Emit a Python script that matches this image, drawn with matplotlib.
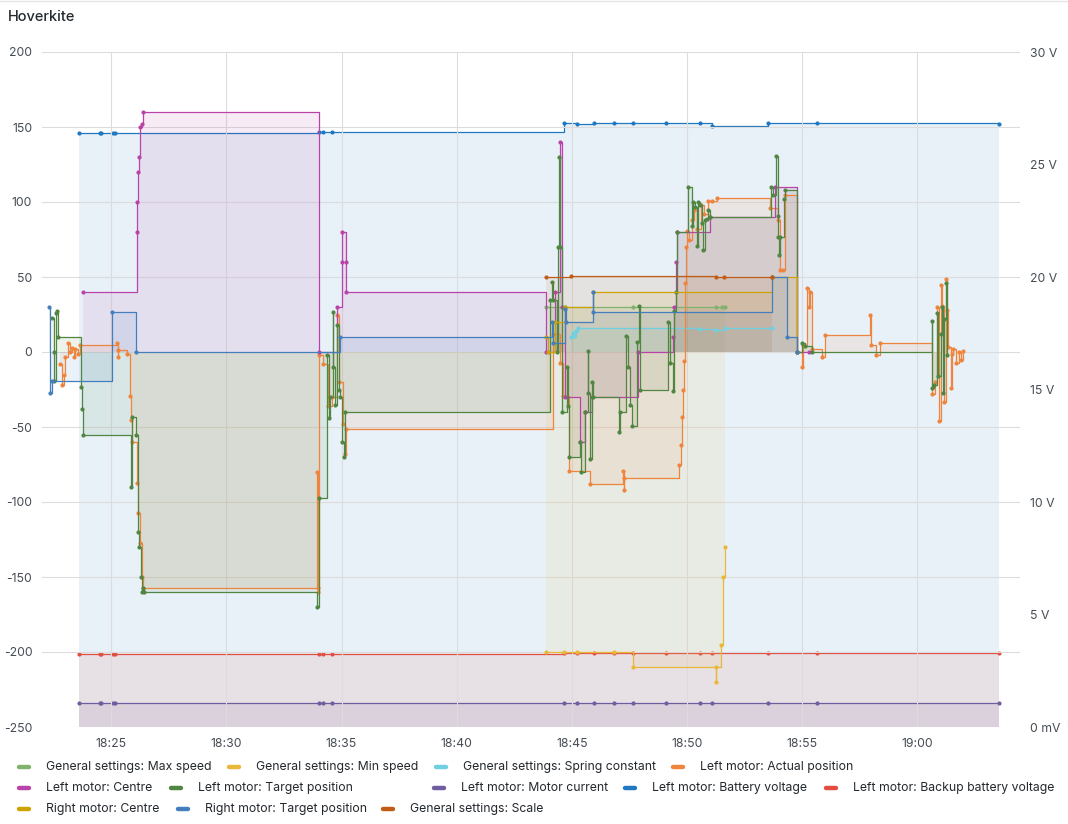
import matplotlib
matplotlib.use("Agg")
import matplotlib.pyplot as plt
from matplotlib.lines import Line2D

plt.rcParams['font.family'] = ['Inter', 'DejaVu Sans']

# all times are minutes after 18:00

# General settings
max_speed_t = [43.88, 44.70, 47.66, 51.24, 51.52, 51.65]
max_speed_v = [30, 30, 30, 30, 30, 30]

min_speed_t = [43.88, 44.66, 45.23, 46.83, 47.67, 51.24, 51.27, 51.49, 51.55, 51.64]
min_speed_v = [-200, -200, -200, -200, -210, -220, -210, -195, -150, -130]

spring_t = [44.97, 45.05, 45.10, 45.18, 45.25, 50.56, 51.24, 51.65, 53.68]
spring_v = [10, 13, 11, 14, 16, 15.5, 15, 16, 16]

scale_t = [43.88, 44.95, 51.24, 51.60, 53.68]
scale_v = [50, 50.5, 50, 50, 50]

# Left motor: Actual position
act_t = [22.79, 22.86, 22.95, 23.00, 23.12, 23.20, 23.30, 23.38, 23.45, 23.55,
         23.65, 25.25, 25.28, 25.30, 25.69, 25.82, 25.86, 25.90, 26.14, 26.18,
         26.26, 26.33, 26.40, 33.92, 33.96, 33.99, 34.03, 34.20, 34.43, 34.59,
         34.80, 34.87, 35.08, 35.16, 35.19, 44.18, 44.49, 44.62, 44.89, 45.79,
         47.21, 47.24, 47.27, 49.67, 49.73, 49.77, 49.81, 49.88, 49.91, 49.96,
         49.99, 50.10, 50.20, 50.30, 50.45, 50.60, 50.75, 50.90, 51.07, 51.30,
         53.60, 53.95, 54.04, 54.17, 54.25, 54.77, 54.98, 55.05, 55.20, 55.28,
         55.34, 55.41, 55.85, 55.99, 57.94, 58.00, 58.20, 58.38, 60.62, 60.76,
         60.85, 60.95, 61.01, 61.08, 61.15, 61.23, 61.27, 61.34, 61.45, 61.49,
         61.55, 61.68, 61.81, 61.89, 61.99]
act_v = [-8, -22, -15, -3, 6, 0, 3, -3, 2, -1,
         4.5, 6, -3, 1.5, -1.5, -29, -45, -60, -87, -107,
         -127, -150, -157, -80, -157, -160, -2, -8, -36, -30,
         25, -20, -48, -68, -51.5, 12, -7, -29, -79, -88,
         -79, -92, -84, -75, -62, -43, -25, -6, 46, 70,
         81, 75, 88, 95, 82, 98, 92, 101, 101, 102.5,
         96, 88, 55, 55, 104.5, 0, -10, 5, 43, 30,
         40, 2, -3, 11.3, 25, 5, -2, 6, -28, -20,
         30, -46, 45, 31, -33, 49, 28, 3.6, -24, -1.5,
         2, -7, 0, -5, 0.7]

# Left motor: Centre
ctr_t = [23.77, 26.11, 26.14, 26.17, 26.23, 26.27, 26.33, 26.40, 34.04, 34.82,
         35.02, 35.04, 35.20, 35.21, 43.88, 44.27, 44.47, 44.56, 44.70, 45.36,
         45.57, 45.86, 47.89, 49.39, 49.45, 49.50, 49.55, 51.00, 53.82, 54.77,
         55.30]
ctr_v = [40, 80, 100, 120, 130, 150, 152, 160, 0, 30,
         60, 80, 60, 40, 0, 40, 140, 30, -30, -60,
         -40, -30, 0, 10, 30, 60, 80, 90, 110, 0,
         0]

# Left motor: Target position
tgt_t = [22.45, 22.50, 22.54, 22.61, 22.67, 22.70, 23.71, 23.75, 23.80, 25.86,
         25.90, 26.09, 26.16, 26.22, 26.29, 26.33, 26.38, 26.42, 33.93, 34.04,
         34.36, 34.45, 34.51, 34.61, 34.65, 34.72, 34.80, 34.87, 34.94, 35.04,
         35.10, 35.16, 44.05, 44.13, 44.20, 44.34, 44.41, 44.46, 44.49, 44.56,
         44.78, 44.85, 44.89, 45.36, 45.40, 45.57, 45.69, 45.72, 45.79, 45.86,
         45.93, 47.05, 47.09, 47.35, 47.45, 47.52, 47.60, 47.84, 47.92, 47.96,
         49.19, 49.26, 49.41, 49.45, 49.52, 49.55, 50.03, 50.20, 50.27, 50.35,
         50.42, 50.49, 50.56, 50.64, 50.71, 50.78, 50.85, 50.92, 51.00, 53.65,
         53.75, 53.86, 53.94, 53.96, 53.99, 54.04, 54.22, 54.25, 54.76, 54.98,
         55.12, 55.41, 60.62, 60.65, 60.73, 60.84, 60.91, 61.02, 61.08, 61.12,
         61.17, 61.24, 61.28]
tgt_v = [22.5, 0, -19.5, 25.8, 27.5, 10, -23, -38, -55, -90,
         -43, -55, -120, -130, -150, -160, -157, -160, -170, -97,
         -2, -44, -30, 27, -10, -35, 18, -25, -30, -60,
         -70, -40, 35, 47, 35, 0, 70, 130, 70, -40,
         -10, -36, -70, -60, -80, -40, 1, -27, -71, -20,
         -30, -53, -40, 11, -10, -35, -49, 7, 31, -25,
         20, -7, -26, 27.5, 40, 80, 110, 84, 100, 97,
         71, 100, 98, 86, 68, 88, 89, 95, 90, 110,
         105, 131, 91, 77, 65, 77, 102, 108, 0, 6,
         4, 0, 21, -24, -22, 26, -16, 12, 30, -27,
         22, 46, -2]

# Left motor power readings (right axis, volts)
pwr_t = [23.61, 24.52, 24.57, 25.09, 25.17, 34.03, 34.20, 34.59, 44.66, 45.23,
         45.96, 46.83, 47.66, 49.09, 50.56, 51.08, 53.51, 55.64, 63.54]
current_v = [1.07, 1.07, 1.07, 1.07, 1.07, 1.07, 1.07, 1.07, 1.07, 1.07,
             1.07, 1.07, 1.07, 1.07, 1.07, 1.07, 1.07, 1.07, 1.07]
battery_v = [26.4, 26.4, 26.4, 26.4, 26.4, 26.46, 26.46, 26.46, 26.83, 26.8,
             26.83, 26.83, 26.83, 26.83, 26.83, 26.72, 26.83, 26.83, 26.8]
backup_v = [3.25, 3.25, 3.25, 3.25, 3.25, 3.26, 3.26, 3.26, 3.28, 3.28,
            3.28, 3.28, 3.28, 3.28, 3.28, 3.28, 3.28, 3.28, 3.28]

# Right motor
rctr_t = [43.88, 43.95, 44.25, 44.70, 45.91, 53.68, 54.77]
rctr_v = [10, 0, 20, 30, 40, 50, 0]

rtgt_t = [22.31, 22.35, 22.43, 25.03, 26.07, 34.94, 44.13, 44.20, 44.70, 44.75,
          45.91, 45.93, 53.68, 54.34, 54.77]
rtgt_v = [30, -27, -19, 26.5, 0, 10, 20, 6, 29, 20,
          40, 27, 50, 10, 0]

x_ticks = [25, 30, 35, 40, 45, 50, 55, 60]
x_labels = ['18:25', '18:30', '18:35', '18:40', '18:45', '18:50', '18:55', '19:00']
y_ticks = [-250, -200, -150, -100, -50, 0, 50, 100, 150, 200]
v_ticks = [0, 5, 10, 15, 20, 25, 30]
v_labels = ['0 mV', '5 V', '10 V', '15 V', '20 V', '25 V', '30 V']

series = [
    ('General settings: Max speed', max_speed_t, max_speed_v, '#7EB26D', 'L'),
    ('General settings: Min speed', min_speed_t, min_speed_v, '#EAB839', 'L'),
    ('General settings: Spring constant', spring_t, spring_v, '#6ED0E0', 'L'),
    ('Left motor: Actual position', act_t, act_v, '#EF843C', 'L'),
    ('Left motor: Centre', ctr_t, ctr_v, '#BA43A9', 'L'),
    ('Left motor: Target position', tgt_t, tgt_v, '#508642', 'L'),
    ('Left motor: Motor current', pwr_t, current_v, '#705DA0', 'R'),
    ('Left motor: Battery voltage', pwr_t, battery_v, '#1F78C1', 'R'),
    ('Left motor: Backup battery voltage', pwr_t, backup_v, '#E24D42', 'R'),
    ('Right motor: Centre', rctr_t, rctr_v, '#CCA300', 'L'),
    ('Right motor: Target position', rtgt_t, rtgt_v, '#447EBC', 'L'),
    ('General settings: Scale', scale_t, scale_v, '#C15C17', 'L'),
]

W, H = 1068, 824
fig = plt.figure(figsize=(W / 100, H / 100), dpi=100)
ax = fig.add_axes([42 / W, 1 - 727 / H, (1020 - 42) / W, (727 - 52) / H])
ax2 = ax.twinx()
ax.set_zorder(ax2.get_zorder() + 1)
ax.patch.set_visible(False)

for name, t, v, col, side in series:
    a = ax if side == 'L' else ax2
    a.fill_between(t, v, 0, step='post', color=col, alpha=0.1, lw=0)
    a.step(t, v, where='post', color=col, lw=0.9)
    a.plot(t, v, ls='none', marker='o', ms=2.0, color=col)

ax.set_xlim(22.0, 64.45)
ax.set_ylim(-250, 200)
ax2.set_ylim(0, 30)

tick_col = '#464c54'
ax.set_xticks(x_ticks)
ax.set_xticklabels(x_labels)
ax.set_yticks(y_ticks)
ax.set_yticklabels([str(y) for y in y_ticks])
ax2.set_yticks(v_ticks)
ax2.set_yticklabels(v_labels)
for a in (ax, ax2):
    for s in a.spines.values():
        s.set_visible(False)
    a.tick_params(length=0, labelsize=8.8, colors=tick_col)
ax.tick_params(axis='y', pad=7)
ax.tick_params(axis='x', pad=8)
ax2.tick_params(axis='y', pad=7)
ax.grid(True, color='#dcdcdc', lw=0.8)
ax.set_axisbelow(True)

fig.text(8 / W, 1 - 17 / H, 'Hoverkite', fontsize=10.5, color='#24292e',
         va='center', ha='left', fontweight='medium')
fig.add_artist(Line2D([0, 1], [1 - 1 / H, 1 - 1 / H], color='#e4e4e4', lw=1))

# legend layout: (row y, marker left x) per item in series order
legend_pos = [(767, 17), (767, 227), (767, 434), (767, 671),
              (788, 17), (788, 169), (788, 432), (788, 623), (788, 824),
              (809, 17), (809, 176), (809, 381)]
for (name, t, v, col, side), (ly, lx) in zip(series, legend_pos):
    fig.add_artist(Line2D([(lx + 2) / W, (lx + 12) / W], [1 - ly / H, 1 - ly / H],
                          color=col, lw=3.2, solid_capstyle='round'))
    fig.text((lx + 29) / W, 1 - ly / H, name, fontsize=8.8, color='#24292e',
             va='center', ha='left')

fig.savefig('out.png', dpi=100)
